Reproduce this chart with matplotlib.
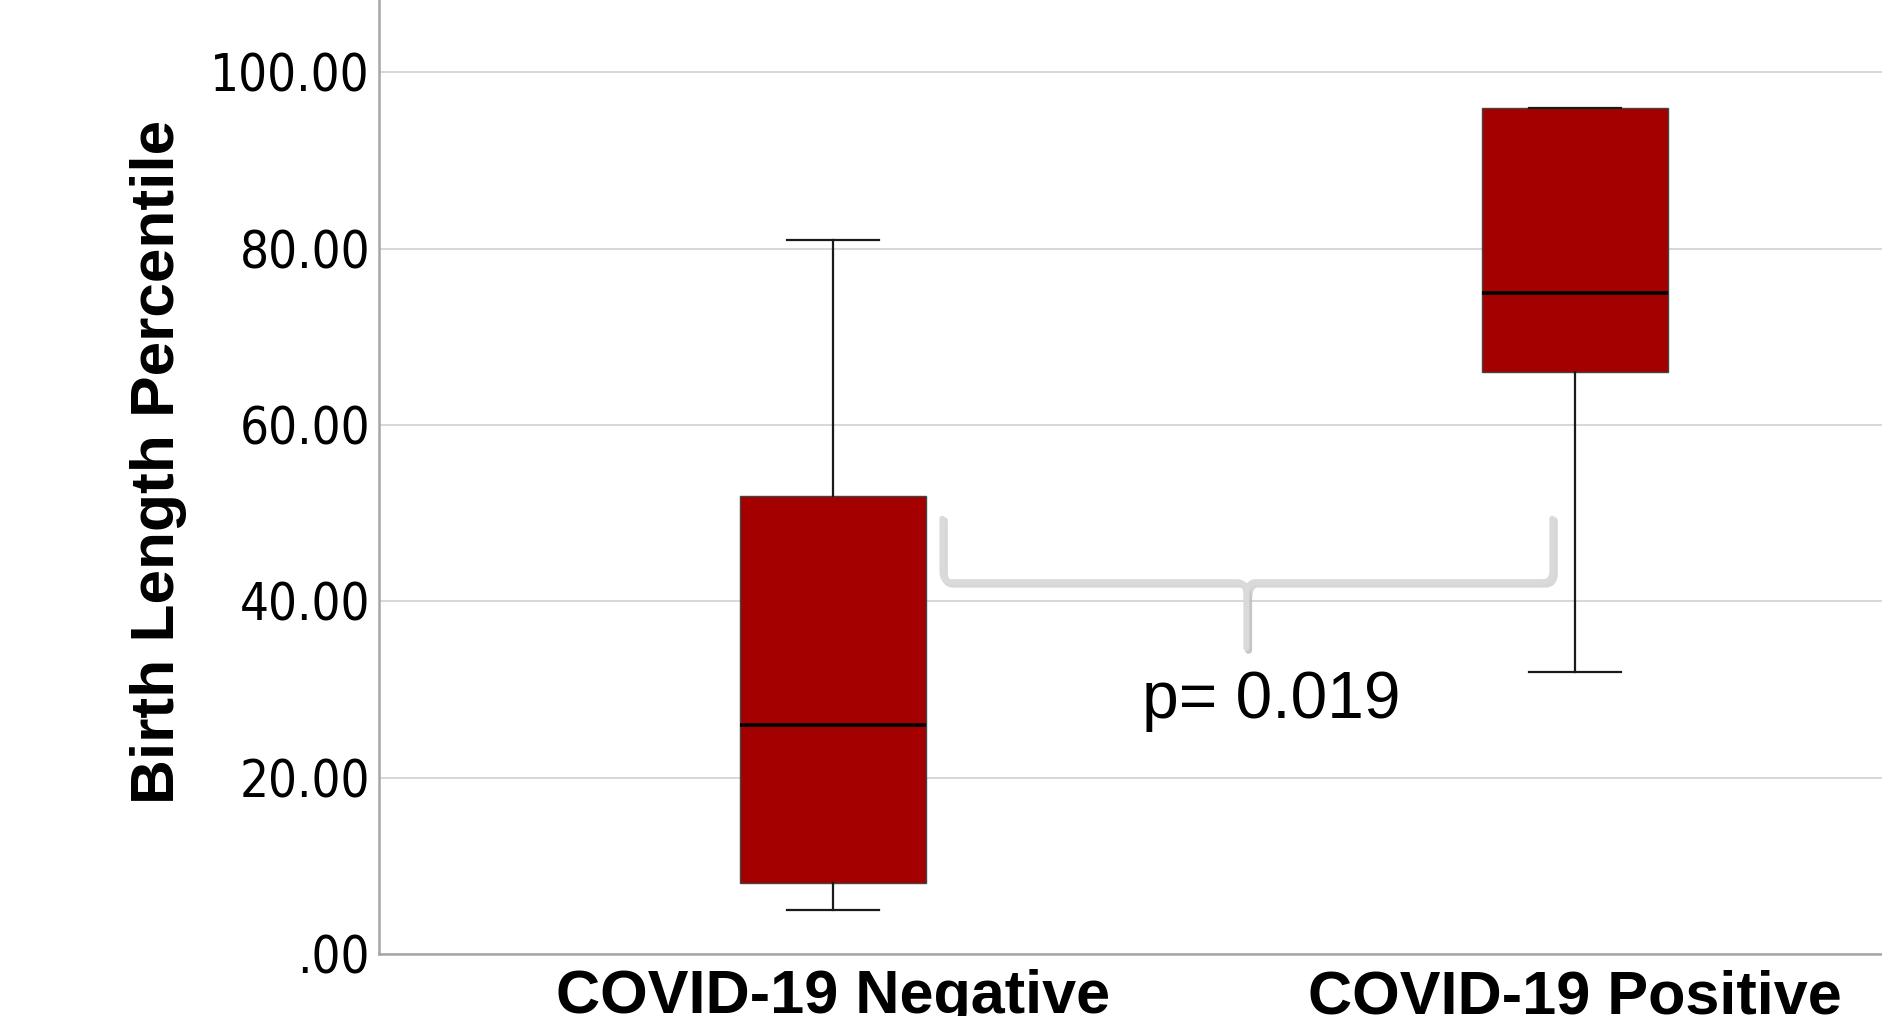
import matplotlib
matplotlib.use("Agg")
import matplotlib.pyplot as plt
from matplotlib.path import Path
from matplotlib.patches import PathPatch
from matplotlib import font_manager

# ---- data ----
categories = ["COVID-19 Negative", "COVID-19 Positive"]
whisker_low = [5, 32]
q1 = [8, 66]
medians = [26, 75]
q3 = [52, 96]
whisker_high = [81, 96]
ytick_values = [0, 20, 40, 60, 80, 100]
ytick_labels = [".00", "20.00", "40.00", "60.00", "80.00", "100.00"]
p_text = "p= 0.019"

# pick a condensed DejaVu if installed
cond = [f for f in font_manager.fontManager.ttflist
        if f.name.startswith("DejaVu Sans") and "ondensed" in f.fname and f.weight in (400, "normal")
        and f.style == "normal"]
if cond:
    ytick_font = dict(fontproperties=font_manager.FontProperties(fname=cond[0].fname, size=36.5))
else:
    ytick_font = dict(fontfamily="Open Sans", fontsize=36.5)

fig = plt.figure(figsize=(18.83, 10.16), dpi=100)
ax = fig.add_axes([0.2013, 0.061, 0.7987, 0.939])

stats = []
for i, c in enumerate(categories):
    stats.append(dict(label=c, med=medians[i], q1=q1[i], q3=q3[i],
                      whislo=whisker_low[i], whishi=whisker_high[i], fliers=[]))

positions = [1, 2]
ax.bxp(stats, positions=positions, widths=0.25, capwidths=0.124, patch_artist=True,
       showfliers=False,
       boxprops=dict(facecolor="#a50000", edgecolor="#444444", linewidth=1.0),
       medianprops=dict(color="black", linewidth=2.6),
       whiskerprops=dict(color="#1a1a1a", linewidth=1.6),
       capprops=dict(color="#1a1a1a", linewidth=1.6), zorder=3)

ax.set_xlim(0.388, 2.415)
ax.set_ylim(0, 108.2)
ax.set_yticks(ytick_values)
ax.set_yticklabels(ytick_labels, **ytick_font)
ax.set_xticks(positions)
ax.set_xticklabels(categories, fontfamily="Liberation Sans", fontweight="bold", fontsize=44)
ax.tick_params(axis="both", length=0)
ax.tick_params(axis="y", pad=6.5)
ax.tick_params(axis="x", pad=11)

ax.grid(axis="y", color="#d4d4d4", linewidth=1.3, zorder=0)
ax.set_axisbelow(True)
for s in ["top", "right"]:
    ax.spines[s].set_visible(False)
for s in ["left", "bottom"]:
    ax.spines[s].set_color("#a6a6a6")
    ax.spines[s].set_linewidth(1.8)

ax.set_ylabel("Birth Length Percentile", fontfamily="Liberation Sans", fontweight="bold",
              fontsize=44.8)
ax.yaxis.set_label_coords(-0.128, 0.516)

# ---- brace ----
xl, xr, xc = 1.147, 1.969, 1.557
ytop, yh, ytip = 49.4, 42.2, 34.7
dx = 0.012
dy = 1.2
verts = [(xl, ytop), (xl, yh + dy), (xl, yh), (xl + dx, yh),
         (xc - dx, yh), (xc, yh), (xc, yh - dy * 1.5), (xc, ytip)]
codes = [Path.MOVETO, Path.LINETO, Path.CURVE3, Path.CURVE3,
         Path.LINETO, Path.CURVE3, Path.CURVE3, Path.LINETO]
verts2 = [(xr, ytop), (xr, yh + dy), (xr, yh), (xr - dx, yh),
          (xc + dx, yh), (xc, yh), (xc, yh - dy * 1.5), (xc, ytip)]
for v in (verts, verts2):
    shadow = [(x + 0.003, y - 0.25) for x, y in v]
    ax.add_patch(PathPatch(Path(shadow, codes), fill=False, edgecolor="#bdbdbd",
                           linewidth=5, alpha=0.6, capstyle="round", joinstyle="round", zorder=4))
    ax.add_patch(PathPatch(Path(v, codes), fill=False, edgecolor="#dadada",
                           linewidth=4, capstyle="round", joinstyle="round", zorder=5))

ax.text(1.59, 26.8, p_text, fontfamily="Liberation Sans", fontsize=47.4,
        ha="center", va="baseline", zorder=6)

fig.savefig("out.png", dpi=100)
